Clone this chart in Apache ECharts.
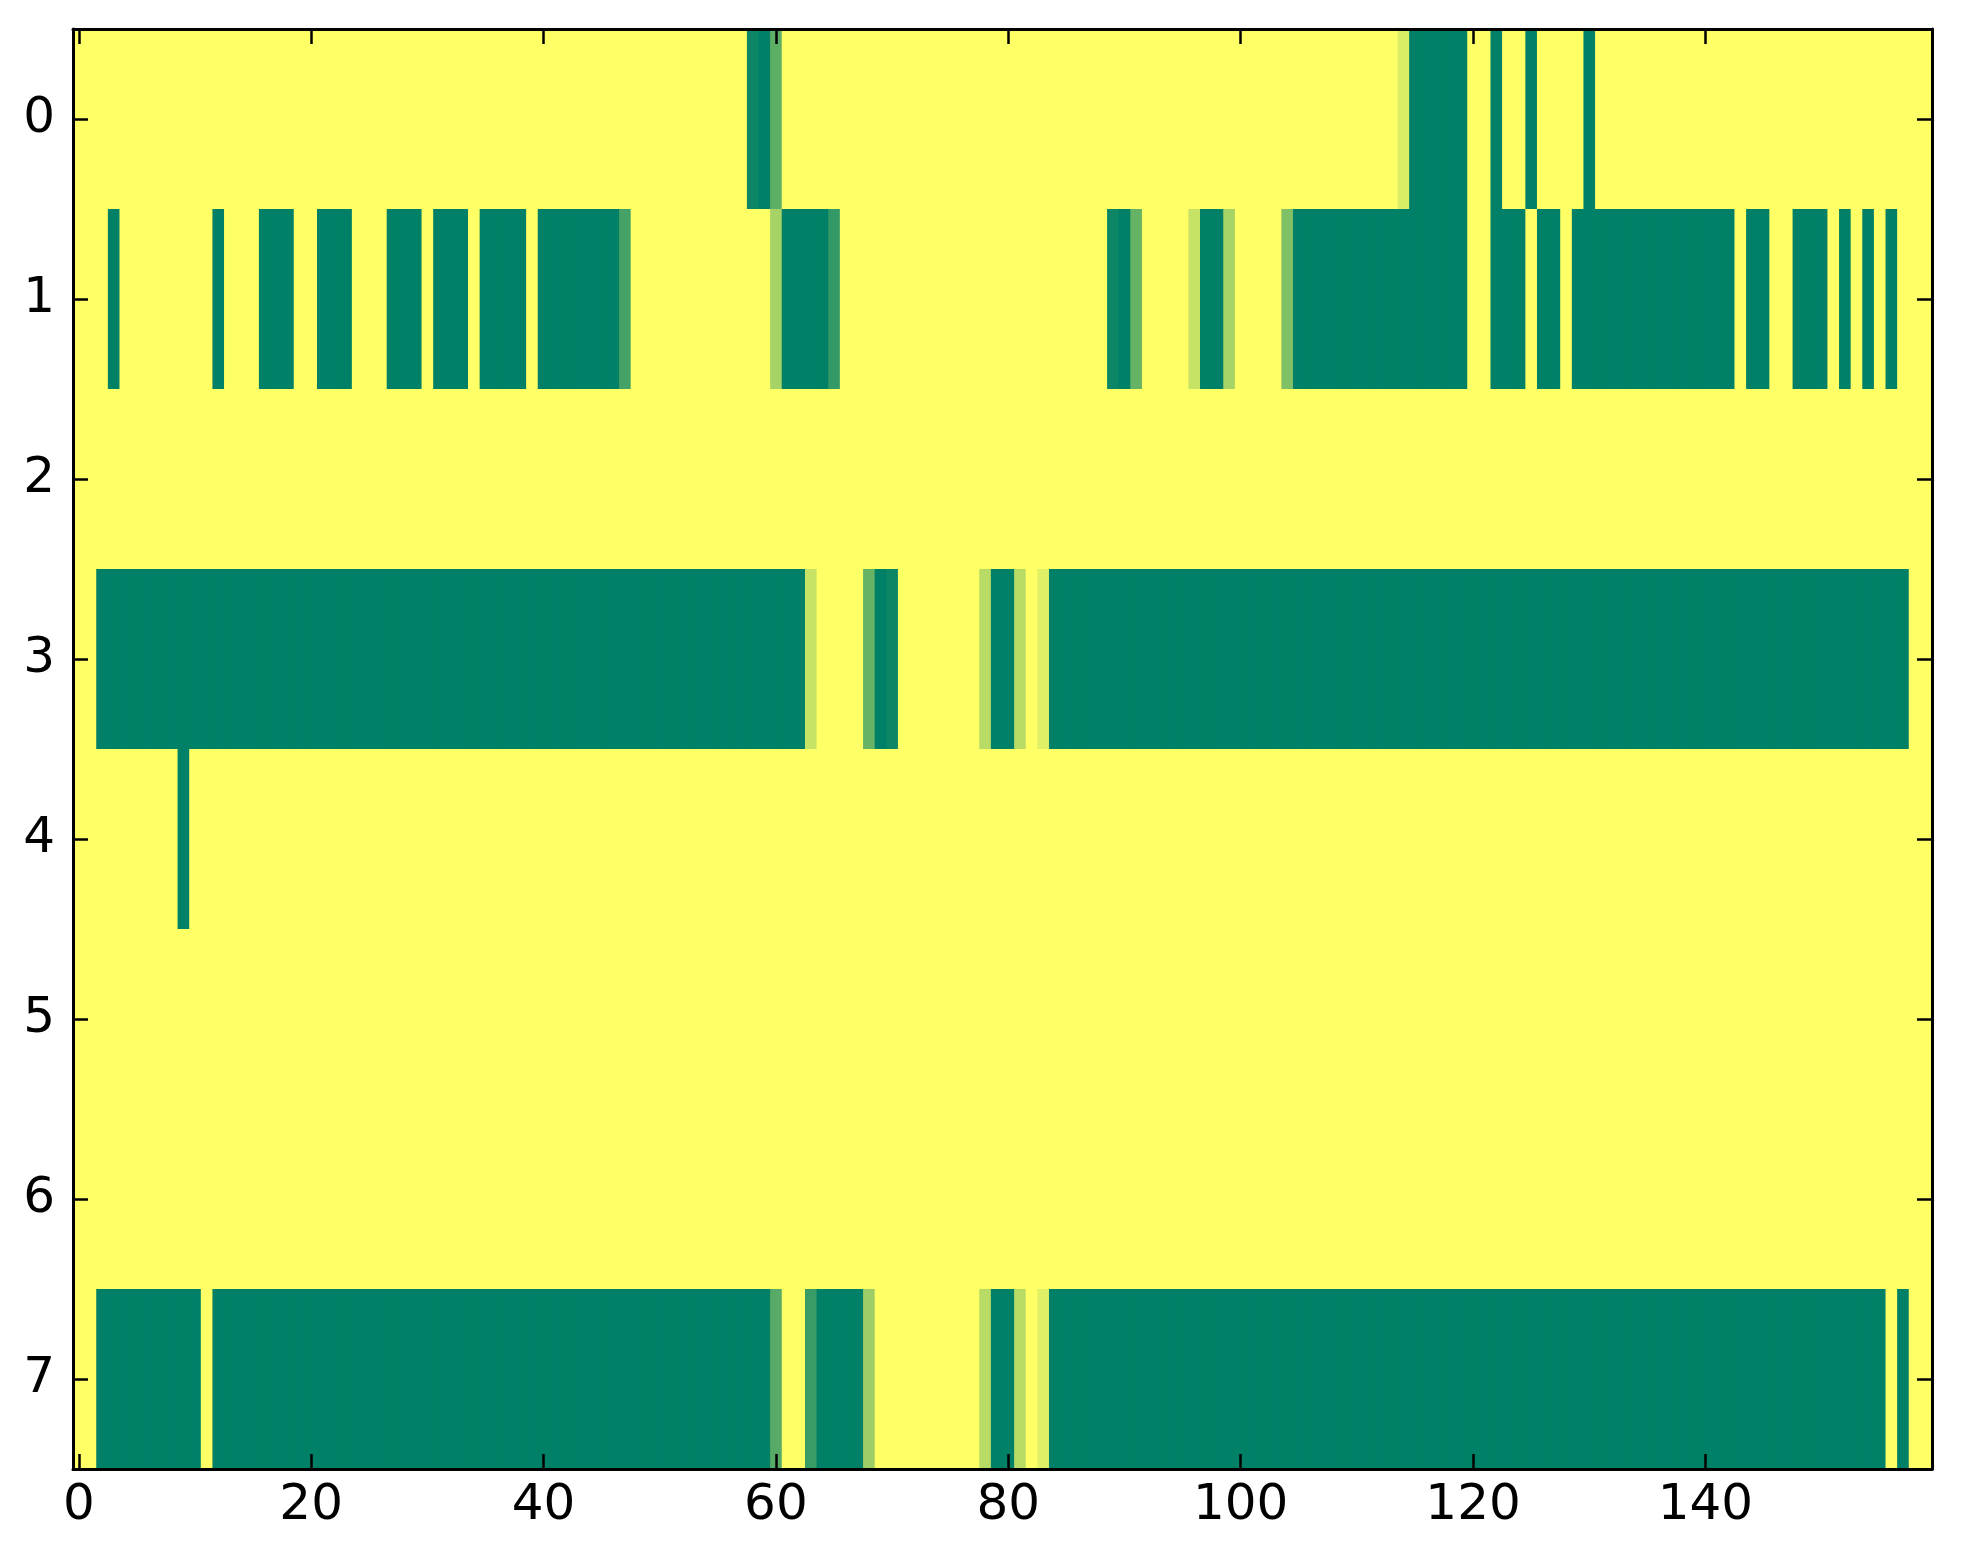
<!DOCTYPE html>
<html>
<head>
<meta charset="utf-8">
<script src="https://cdn.jsdelivr.net/npm/echarts@6/dist/echarts.min.js"></script>
<style>
html,body{margin:0;padding:0;background:#fff;}
#chart{width:1963px;height:1564px;}
</style>
</head>
<body>
<div id="chart"></div>
<script>
// Tick labels
var xTickLabels = [0, 20, 40, 60, 80, 100, 120, 140];
var yTickLabels = [0, 1, 2, 3, 4, 5, 6, 7];

// Cell values per row (160 columns each)
var row0 = [
  0,0,0,0,0,0,0,0,0,0,  0,0,0,0,0,0,0,0,0,0,
  0,0,0,0,0,0,0,0,0,0,  0,0,0,0,0,0,0,0,0,0,
  0,0,0,0,0,0,0,0,0,0,  0,0,0,0,0,0,0,0,0.95,1,
  0.63,0,0,0,0,0,0,0,0,0,  0,0,0,0,0,0,0,0,0,0,
  0,0,0,0,0,0,0,0,0,0,  0,0,0,0,0,0,0,0,0,0,
  0,0,0,0,0,0,0,0,0,0,  0,0,0,0,0.14,1,1,1,1,1,
  0,0,1,0,0,1,0,0,0,0,  1,0,0,0,0,0,0,0,0,0,
  0,0,0,0,0,0,0,0,0,0,  0,0,0,0,0,0,0,0,0,0
];
var row1 = [
  0,0,0,1,0,0,0,0,0,0,  0,0,1,0,0,0,1,1,1,0,
  0,1,1,1,0,0,0,1,1,1,  0,1,1,1,0,1,1,1,1,0,
  1,1,1,1,1,1,1,0.73,0,0,  0,0,0,0,0,0,0,0,0,0,
  0.35,1,1,1,1,0.8,0,0,0,0,  0,0,0,0,0,0,0,0,0,0,
  0,0,0,0,0,0,0,0,0,0.95,  1,0.6,0,0,0,0,0.22,1,1,0.35,
  0,0,0,0,0.5,1,1,1,1,1,  1,1,1,1,1,1,1,1,1,1,
  0,0,1,1,1,0,1,1,0,1,  1,1,1,1,1,1,1,1,1,1,
  1,1,1,0,1,1,0,0,1,1,  1,0,1,0,1,0,1,0,0,0
];
var row2 = [
  0,0,0,0,0,0,0,0,0,0,  0,0,0,0,0,0,0,0,0,0,
  0,0,0,0,0,0,0,0,0,0,  0,0,0,0,0,0,0,0,0,0,
  0,0,0,0,0,0,0,0,0,0,  0,0,0,0,0,0,0,0,0,0,
  0,0,0,0,0,0,0,0,0,0,  0,0,0,0,0,0,0,0,0,0,
  0,0,0,0,0,0,0,0,0,0,  0,0,0,0,0,0,0,0,0,0,
  0,0,0,0,0,0,0,0,0,0,  0,0,0,0,0,0,0,0,0,0,
  0,0,0,0,0,0,0,0,0,0,  0,0,0,0,0,0,0,0,0,0,
  0,0,0,0,0,0,0,0,0,0,  0,0,0,0,0,0,0,0,0,0
];
var row3 = [
  0,0,1,1,1,1,1,1,1,1,  1,1,1,1,1,1,1,1,1,1,
  1,1,1,1,1,1,1,1,1,1,  1,1,1,1,1,1,1,1,1,1,
  1,1,1,1,1,1,1,1,1,1,  1,1,1,1,1,1,1,1,1,1,
  1,1,1,0.22,0,0,0,0,0.6,1,  0.95,0,0,0,0,0,0,0,0.28,1,
  1,0.28,0,0.12,1,1,1,1,1,1,  1,1,1,1,1,1,1,1,1,1,
  1,1,1,1,1,1,1,1,1,1,  1,1,1,1,1,1,1,1,1,1,
  1,1,1,1,1,1,1,1,1,1,  1,1,1,1,1,1,1,1,1,1,
  1,1,1,1,1,1,1,1,1,1,  1,1,1,1,1,1,1,1,0,0
];
var row4 = [
  0,0,0,0,0,0,0,0,0,1,  0,0,0,0,0,0,0,0,0,0,
  0,0,0,0,0,0,0,0,0,0,  0,0,0,0,0,0,0,0,0,0,
  0,0,0,0,0,0,0,0,0,0,  0,0,0,0,0,0,0,0,0,0,
  0,0,0,0,0,0,0,0,0,0,  0,0,0,0,0,0,0,0,0,0,
  0,0,0,0,0,0,0,0,0,0,  0,0,0,0,0,0,0,0,0,0,
  0,0,0,0,0,0,0,0,0,0,  0,0,0,0,0,0,0,0,0,0,
  0,0,0,0,0,0,0,0,0,0,  0,0,0,0,0,0,0,0,0,0,
  0,0,0,0,0,0,0,0,0,0,  0,0,0,0,0,0,0,0,0,0
];
var row5 = [
  0,0,0,0,0,0,0,0,0,0,  0,0,0,0,0,0,0,0,0,0,
  0,0,0,0,0,0,0,0,0,0,  0,0,0,0,0,0,0,0,0,0,
  0,0,0,0,0,0,0,0,0,0,  0,0,0,0,0,0,0,0,0,0,
  0,0,0,0,0,0,0,0,0,0,  0,0,0,0,0,0,0,0,0,0,
  0,0,0,0,0,0,0,0,0,0,  0,0,0,0,0,0,0,0,0,0,
  0,0,0,0,0,0,0,0,0,0,  0,0,0,0,0,0,0,0,0,0,
  0,0,0,0,0,0,0,0,0,0,  0,0,0,0,0,0,0,0,0,0,
  0,0,0,0,0,0,0,0,0,0,  0,0,0,0,0,0,0,0,0,0
];
var row6 = [
  0,0,0,0,0,0,0,0,0,0,  0,0,0,0,0,0,0,0,0,0,
  0,0,0,0,0,0,0,0,0,0,  0,0,0,0,0,0,0,0,0,0,
  0,0,0,0,0,0,0,0,0,0,  0,0,0,0,0,0,0,0,0,0,
  0,0,0,0,0,0,0,0,0,0,  0,0,0,0,0,0,0,0,0,0,
  0,0,0,0,0,0,0,0,0,0,  0,0,0,0,0,0,0,0,0,0,
  0,0,0,0,0,0,0,0,0,0,  0,0,0,0,0,0,0,0,0,0,
  0,0,0,0,0,0,0,0,0,0,  0,0,0,0,0,0,0,0,0,0,
  0,0,0,0,0,0,0,0,0,0,  0,0,0,0,0,0,0,0,0,0
];
var row7 = [
  0,0,1,1,1,1,1,1,1,1,  1,0,1,1,1,1,1,1,1,1,
  1,1,1,1,1,1,1,1,1,1,  1,1,1,1,1,1,1,1,1,1,
  1,1,1,1,1,1,1,1,1,1,  1,1,1,1,1,1,1,1,1,1,
  0.66,0,0,0.78,1,1,1,1,0.39,0,  0,0,0,0,0,0,0,0,0.28,1,
  1,0.28,0,0.12,1,1,1,1,1,1,  1,1,1,1,1,1,1,1,1,1,
  1,1,1,1,1,1,1,1,1,1,  1,1,1,1,1,1,1,1,1,1,
  1,1,1,1,1,1,1,1,1,1,  1,1,1,1,1,1,1,1,1,1,
  1,1,1,1,1,1,1,1,1,1,  1,1,1,1,1,1,0,1,0,0
];

var rows = [row0, row1, row2, row3, row4, row5, row6, row7];

var columns = row0.map(function (_, i) { return String(i); });
var rowCats = rows.map(function (_, i) { return String(i); });

var cells = [];
rows.forEach(function (r, ri) {
  r.forEach(function (v, ci) { cells.push([ci, ri, v]); });
});

var FONT = 'DejaVu Sans';
var xShow = function (i) { return xTickLabels.indexOf(i) >= 0; };
var yShow = function (i) { return yTickLabels.indexOf(i) >= 0; };

function renderCell(params, api) {
  var c = api.coord([api.value(0), api.value(1)]);
  var s = api.size([1, 1]);
  return {
    type: 'rect',
    shape: {x: c[0] - s[0] / 2, y: c[1] - s[1] / 2, width: s[0] + 1, height: s[1] + 1},
    style: {fill: api.visual('color'), stroke: null}
  };
}

var chart = echarts.init(document.getElementById('chart'), null, {renderer: 'canvas'});
chart.setOption({
  animation: false,
  backgroundColor: '#ffffff',
  grid: {left: 73, top: 29, right: 31, bottom: 95, containLabel: false},
  visualMap: {
    show: false, min: 0, max: 1, dimension: 2, seriesIndex: 0,
    inRange: {color: ['#ffff66', '#008066']}
  },
  xAxis: [{
    type: 'category', data: columns, position: 'bottom', boundaryGap: true,
    axisLine: {show: true, onZero: false, lineStyle: {color: '#000', width: 3}},
    axisTick: {show: true, inside: true, length: 15, alignWithLabel: true, interval: xShow, lineStyle: {color: '#000', width: 2.5}},
    axisLabel: {show: true, interval: xShow, margin: 12, color: '#000', fontFamily: FONT, fontSize: 50},
    splitLine: {show: false}, z: 10
  }, {
    type: 'category', data: columns, position: 'top', boundaryGap: true,
    axisLine: {show: true, onZero: false, lineStyle: {color: '#000', width: 3}},
    axisTick: {show: true, inside: true, length: 15, alignWithLabel: true, interval: xShow, lineStyle: {color: '#000', width: 2.5}},
    axisLabel: {show: false},
    splitLine: {show: false}, z: 10
  }],
  yAxis: [{
    type: 'category', data: rowCats, position: 'left', inverse: true, boundaryGap: true,
    axisLine: {show: true, onZero: false, lineStyle: {color: '#000', width: 3}},
    axisTick: {show: true, inside: true, length: 15, alignWithLabel: true, interval: yShow, lineStyle: {color: '#000', width: 2.5}},
    axisLabel: {show: true, interval: yShow, margin: 18, color: '#000', fontFamily: FONT, fontSize: 50},
    splitLine: {show: false}, z: 10
  }, {
    type: 'category', data: rowCats, position: 'right', inverse: true, boundaryGap: true,
    axisLine: {show: true, onZero: false, lineStyle: {color: '#000', width: 3}},
    axisTick: {show: true, inside: true, length: 15, alignWithLabel: true, interval: yShow, lineStyle: {color: '#000', width: 2.5}},
    axisLabel: {show: false},
    splitLine: {show: false}, z: 10
  }],
  series: [{
    type: 'custom', xAxisIndex: 0, yAxisIndex: 0,
    renderItem: renderCell,
    encode: {x: 0, y: 1},
    data: cells,
    clip: true,
    silent: true
  }]
});
</script>
</body>
</html>
